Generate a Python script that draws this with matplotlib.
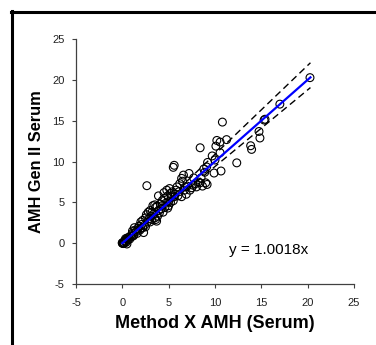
import matplotlib
matplotlib.use("Agg")
import matplotlib.pyplot as plt
from matplotlib.lines import Line2D
import numpy as np

plt.rcParams['font.family'] = ['Liberation Sans', 'DejaVu Sans']
plt.rcParams['axes.unicode_minus'] = False

method_x = [0, 0.05, 0, 0.1, 0.15, 0.2, 0.3, 0.4, 0.5, 0.45, 0.6, 0.7, 0.8, 0.9, 1.0, 0.35, 0.25, 0.55,
            1.1, 1.2, 1.3, 1.4, 1.5, 1.2, 1.6, 1.1, 1.7, 1.8, 1.9,
            2.0, 2.1, 2.2, 2.3, 2.4, 2.5, 2.5, 2.6, 2.7, 2.8, 2.9, 2.0, 2.2, 2.65,
            3.0, 3.1, 3.2, 3.3, 3.4, 3.5, 3.5, 3.6, 3.7, 3.8, 3.9, 3.9, 3.0, 3.2, 3.6, 3.75,
            4.0, 4.2, 4.3, 4.4, 4.5, 4.6, 4.7, 4.8, 4.9, 5.0, 4.1, 4.5, 4.9, 4.3,
            5.1, 5.2, 5.3, 5.4, 5.5, 5.6, 5.5, 5.7, 5.8, 5.9, 6.0, 5.2, 5.0, 5.6,
            6.2, 6.4, 6.4, 6.6, 6.7, 6.9, 7.0, 7.2, 7.3, 6.5, 6.8, 6.1,
            7.5, 7.65, 7.9, 8.0, 8.2, 8.4, 8.65, 8.5, 8.4, 8.9, 9.0, 9.15, 9.1, 9.2, 7.7, 8.8,
            9.7, 9.9, 10.1, 10.2, 10.55, 10.55, 10.65, 10.8, 11.25, 12.35, 10.0,
            13.85, 13.95, 14.75, 14.85, 15.3, 15.4, 17.0, 20.25]
gen2 = [0, 0, 0.05, -0.05, 0.1, 0, 0.2, 0.1, -0.1, 0.45, 0.4, 0.7, 0.5, 0.9, 0.8, 0.55, 0.3, 0.65,
        1.2, 1.0, 1.9, 1.6, 1.4, 0.9, 1.2, 1.5, 1.8, 2.1, 1.6,
        2.6, 2.3, 2.8, 1.3, 2.2, 3.1, 2.0, 3.5, 2.6, 3.8, 3.0, 1.8, 1.9, 7.05,
        4.0, 3.3, 2.9, 4.6, 3.6, 4.7, 3.1, 4.4, 2.7, 3.3, 5.8, 4.0, 2.6, 3.8, 2.9, 4.5,
        3.7, 4.2, 5.2, 3.8, 6.2, 4.4, 4.9, 6.5, 4.3, 5.1, 4.8, 5.5, 5.8, 4.6,
        6.7, 5.0, 5.6, 6.3, 9.3, 9.55, 5.2, 6.0, 6.5, 6.9, 5.8, 6.1, 4.6, 5.7,
        7.3, 5.7, 7.95, 8.35, 6.5, 6.0, 7.0, 8.55, 6.5, 7.6, 6.9, 6.3,
        6.8, 7.1, 7.3, 6.9, 7.5, 7.4, 7.0, 8.0, 11.7, 8.7, 7.4, 7.2, 9.35, 9.9, 8.0, 9.1,
        10.7, 8.6, 11.9, 12.6, 12.4, 11.1, 8.85, 14.85, 12.7, 9.85, 10.2,
        11.95, 11.5, 13.7, 12.9, 15.1, 15.2, 17.05, 20.3]

slope = 1.0018
upper_slope = 1.09
lower_slope = 0.94
fit_x = [0, 20.3]
band_x = [7.0, 20.3]

fig = plt.figure(figsize=(3.76, 3.45), dpi=100)
ax = fig.add_axes([0.202, 0.177, 0.7395, 0.709])

ax.scatter(method_x, gen2, s=32, facecolors='none', edgecolors='black', linewidths=0.8, zorder=3)
fx = np.array(fit_x)
ax.plot(fx, slope * fx, color='#0000ff', lw=1.6, zorder=4)
bx = np.array(band_x)
ax.plot(bx, upper_slope * bx, color='black', lw=1.0, ls=(0, (5, 3)), zorder=2)
ax.plot(bx, lower_slope * bx, color='black', lw=1.0, ls=(0, (5, 3)), zorder=2)

ax.set_xlim(-5, 25)
ax.set_ylim(-5, 25)
ax.set_xticks([-5, 0, 5, 10, 15, 20, 25])
ax.set_yticks([-5, 0, 5, 10, 15, 20, 25])
for s in ['top', 'right']:
    ax.spines[s].set_visible(False)
for s in ['left', 'bottom']:
    ax.spines[s].set_color('#404040')
    ax.spines[s].set_linewidth(0.9)
ax.tick_params(direction='out', length=3, width=0.8, colors='#404040', labelcolor='#222222', labelsize=8)
ax.tick_params(axis='x', pad=7)
ax.tick_params(axis='y', pad=5)

ax.set_xlabel('Method X AMH (Serum)', fontsize=13, fontweight='bold', labelpad=5)
ax.set_ylabel('AMH Gen II Serum', fontsize=11.8, fontweight='bold', labelpad=6)
ax.text(0.835, 0.139, 'y = 1.0018x', transform=ax.transAxes, ha='right', va='center', fontsize=11)

fig.add_artist(Line2D([10.5/376, 1], [1 - 11.5/345, 1 - 11.5/345], transform=fig.transFigure, color='black', lw=2.2))
fig.add_artist(Line2D([11.5/376, 11.5/376], [1 - 10.5/345, 0], transform=fig.transFigure, color='black', lw=2.2))

fig.savefig('out.png', dpi=100)
